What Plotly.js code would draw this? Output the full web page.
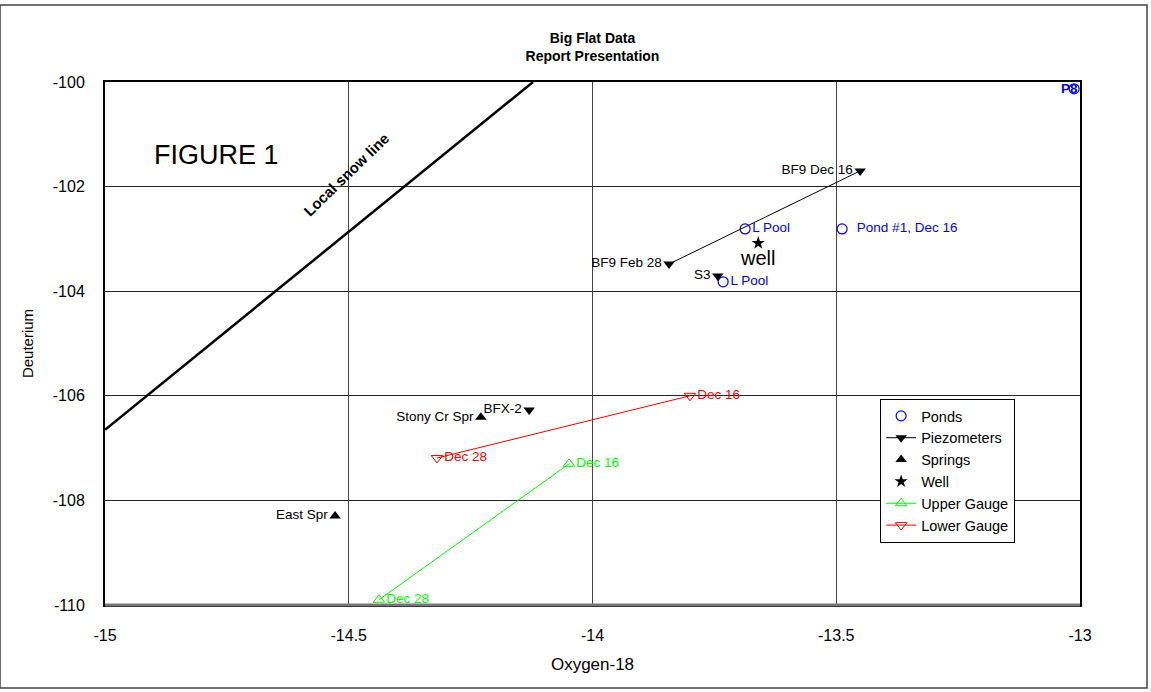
<!DOCTYPE html>
<html><head><meta charset="utf-8">
<script src="https://cdn.plot.ly/plotly-3.0.1.min.js"></script>
<style>html,body{margin:0;padding:0;background:#fff}#chart{width:1151px;height:692px}</style>
</head><body><div id="chart"></div>
<script>
// Data (Oxygen-18 vs Deuterium)
const snowX = [-15, -14.122];
const snowY = [-106.65, -100];

const pondX = [-13.687, -13.732, -13.488, -13.012];
const pondY = [-102.81, -103.82, -102.81, -100.13];
const pondLabels = ['L Pool', 'L Pool', '  Pond #1, Dec 16', 'P8'];

const bf9X = [-13.451, -13.843];
const bf9Y = [-101.70, -103.48];
const bf9Labels = ['BF9 Dec 16', 'BF9 Feb 28'];

const piezoX = [-13.743, -14.130];
const piezoY = [-103.71, -106.27];
const piezoLabels = ['S3', 'BFX-2'];

const springX = [-14.229, -14.528];
const springY = [-106.41, -108.30];
const springLabels = ['Stony Cr Spr', 'East Spr'];

const wellX = [-13.660];
const wellY = [-103.08];
const wellLabels = ['well'];

const upperX = [-14.048, -14.438];
const upperY = [-107.30, -109.90];
const upperLabels = ['Dec 16', 'Dec 28'];

const lowerX = [-13.800, -14.319];
const lowerY = [-106.00, -107.19];
const lowerLabels = ['Dec 16', 'Dec 28'];

const xTicks = [-15, -14.5, -14, -13.5, -13];
const yTicks = [-100, -102, -104, -106, -108, -110];

const F = 'Liberation Sans, Arial, sans-serif';
const lblFont = (c) => ({family: F, size: 13.5, color: c});

// first three pond labels drawn by the trace, last one (at the plot corner) as an annotation
const pondTraceText = pondLabels.map((t, i) => i < 3 ? t : '');

const traces = [
  {x: snowX, y: snowY, mode: 'lines', line: {color: '#000', width: 2.5}, showlegend: false, hoverinfo: 'skip'},
  {x: pondX, y: pondY, mode: 'markers+text', name: 'Ponds', text: pondTraceText, textposition: 'middle right',
   textfont: lblFont('#0000ff'), marker: {symbol: 'circle-open', size: 10, color: '#0000ff', line: {width: 1.2}}, cliponaxis: false},
  {x: bf9X, y: bf9Y, mode: 'lines+markers+text', name: 'Piezometers', legendgroup: 'p', text: bf9Labels, textposition: 'middle left',
   textfont: lblFont('#000'), line: {color: '#000', width: 1}, marker: {symbol: 'triangle-down', size: 10, color: '#000'}},
  {x: piezoX, y: piezoY, mode: 'markers+text', name: 'Piezometers', legendgroup: 'p', showlegend: false, text: piezoLabels, textposition: 'middle left',
   textfont: lblFont('#000'), marker: {symbol: 'triangle-down', size: 10, color: '#000'}},
  {x: springX, y: springY, mode: 'markers+text', name: 'Springs', text: springLabels, textposition: 'middle left',
   textfont: lblFont('#000'), marker: {symbol: 'triangle-up', size: 10, color: '#000'}},
  {x: wellX, y: wellY, mode: 'markers+text', name: 'Well', text: wellLabels, textposition: 'bottom center',
   textfont: {family: F, size: 20, color: '#000'}, marker: {symbol: 'star', size: 10, color: '#000'}},
  {x: upperX, y: upperY, mode: 'lines+markers+text', name: 'Upper Gauge', text: upperLabels, textposition: 'middle right',
   textfont: lblFont('#00ff00'), line: {color: '#00ff00', width: 1}, marker: {symbol: 'triangle-up-open', size: 10, color: '#00ff00'}, cliponaxis: false},
  {x: lowerX, y: lowerY, mode: 'lines+markers+text', name: 'Lower Gauge', text: lowerLabels, textposition: 'middle right',
   textfont: lblFont('#ff0000'), line: {color: '#ff0000', width: 1}, marker: {symbol: 'triangle-down-open', size: 10, color: '#ff0000'}}
];

const layout = {
  width: 1151, height: 692,
  margin: {l: 105, r: 71, t: 82, b: 87},
  paper_bgcolor: '#fff', plot_bgcolor: '#fff',
  font: {family: F, size: 16, color: '#000'},
  title: {text: '<b>Big Flat Data</b><br><b>Report Presentation</b>', font: {family: F, size: 14, color: '#000'},
          x: 0.5, xref: 'paper', y: 0.938, yref: 'container', yanchor: 'top'},
  xaxis: {range: [-15, -13], tickvals: xTicks, ticktext: xTicks.map(String), ticks: '', ticklabelstandoff: 15,
          tickfont: {family: F, size: 16},
          showgrid: true, gridcolor: '#444', gridwidth: 1, zeroline: false,
          showline: true, linecolor: '#000', linewidth: 2, mirror: true,
          title: {text: 'Oxygen-18', font: {family: F, size: 17}, standoff: 15}},
  yaxis: {range: [-110, -100], tickvals: yTicks, ticktext: yTicks.map(String), ticks: '', ticklabelstandoff: 15,
          tickfont: {family: F, size: 16},
          showgrid: true, gridcolor: '#222', gridwidth: 1, zeroline: false,
          showline: true, linecolor: '#000', linewidth: 2, mirror: true,
          title: {text: 'Deuterium', font: {family: F, size: 15}, standoff: 16}},
  legend: {x: 0.795, y: 0.394, xanchor: 'left', yanchor: 'top', bordercolor: '#000', borderwidth: 1, bgcolor: '#fff',
           font: {family: F, size: 14.5}, itemwidth: 30, tracegroupgap: 0},
  shapes: [
    {type: 'rect', xref: 'paper', yref: 'paper', x0: -105/975, x1: 1 + 67/975, y0: -83/523, y1: 1 + 77/523,
     line: {color: '#444', width: 1.5}, fillcolor: 'rgba(0,0,0,0)'},
    {type: 'line', xref: 'paper', yref: 'paper', x0: 0, x1: 1, y0: 0, y1: 0, line: {color: '#777', width: 3}}
  ],
  annotations: [
    {text: '<b>' + pondLabels[3] + '</b>', x: pondX[3], y: pondY[3], xref: 'x', yref: 'y', xanchor: 'right', yanchor: 'middle',
     xshift: 6, showarrow: false, font: {family: F, size: 13.5, color: '#0000ff'}},
    {text: 'FIGURE 1', xref: 'paper', yref: 'paper', x: (152-105)/975, y: 1 - (155-82)/523, xanchor: 'left', yanchor: 'middle',
     showarrow: false, font: {family: F, size: 27, color: '#000'}},
    {text: '<b>Local snow line</b>', xref: 'paper', yref: 'paper', x: (346-105)/975, y: 1 - (174-82)/523, xanchor: 'center', yanchor: 'middle',
     textangle: -44, showarrow: false, font: {family: F, size: 15, color: '#000'}}
  ]
};

Plotly.newPlot('chart', traces, layout, {displayModeBar: false, staticPlot: true});
</script></body></html>
